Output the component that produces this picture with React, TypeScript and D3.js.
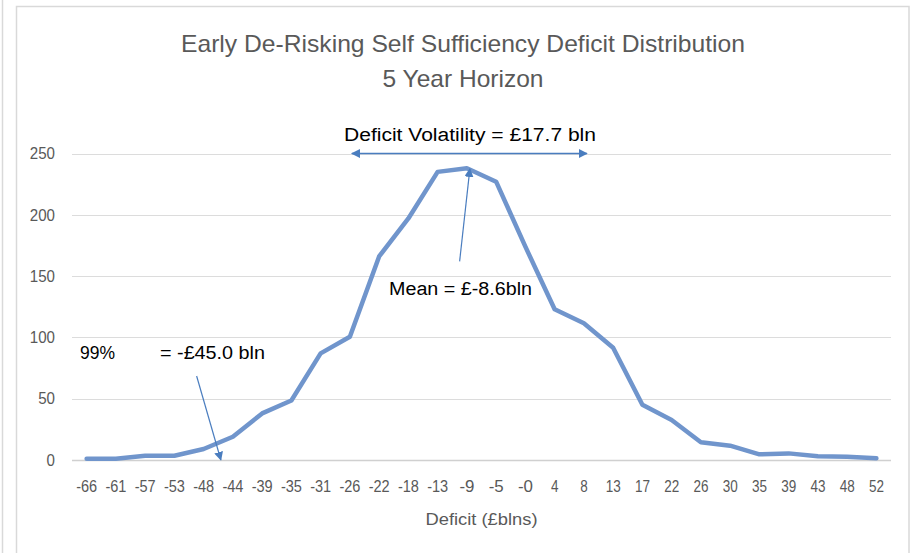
import React from "react";
import * as d3 from "d3";

const categories = ["-66","-61","-57","-53","-48","-44","-39","-35","-31","-26","-22","-18","-13","-9","-5","-0","4","8","13","17","22","26","30","35","39","43","48","52"];
const counts = [1,1,3.5,3.5,9,19,38,48.5,87,100.5,166,197,235,238,227,174,123,111.5,91.5,45,32.6,14.5,11.7,4.6,5.4,3,2.7,1.4];
const yTicks = [0,50,100,150,200,250];
const titleLines = ["Early De-Risking Self Sufficiency Deficit Distribution", "5 Year Horizon"];
const xAxisTitle = "Deficit (£blns)";
const volatilityText = "Deficit Volatility = £17.7 bln";
const meanText = "Mean = £-8.6bln";
const pctText = "99%";
const varText = "= -£45.0 bln";

const W = 913, H = 553;
const plot = { left: 72, right: 891, top: 153.5, bottom: 460 };
const FONT = "'Liberation Sans', Arial, sans-serif";
const LINE_BLUE = "#7095cc";
const ARROW_BLUE = "#4a7dbf";

export default function App() {
  const x = d3.scaleBand<string>().domain(categories).range([plot.left, plot.right]);
  const y = d3.scaleLinear().domain([0, 250]).range([plot.bottom, plot.top]);
  const cx = (c: string) => (x(c) as number) + x.bandwidth() / 2;
  const line = d3.line<number>().x((_, i) => cx(categories[i])).y((d) => y(d));

  const volL = cx("-26") + 2, volR = cx("8") + 3;
  const volY = y(250);
  const meanTip = { x: cx("-9") + 3, y: y(237.5) };
  const meanBase = { x: cx("-13") + 22, y: y(162) };
  const varTip = { x: cx("-44") - 12, y: y(0) };
  const varBase = { x: cx("-48") - 7, y: y(68.5) };

  return (
    <svg width={W} height={H} style={{ position: "absolute", left: 0, top: 0, background: "#fff" }}>
      <defs>
        <marker id="ah2" viewBox="0 0 10 10" refX="9" refY="5" markerWidth="9" markerHeight="9" orient="auto-start-reverse" markerUnits="userSpaceOnUse">
          <path d="M0,0 L10,5 L0,10 z" fill={ARROW_BLUE} />
        </marker>
      </defs>
      <rect x={0} y={0} width={W} height={H} fill="#fff" />
      <line x1={2.5} x2={2.5} y1={0} y2={H} stroke="#d9d9d9" strokeWidth={1.5} />
      <rect x={16.5} y={6.5} width={892.5} height={H} fill="#fff" stroke="#d9d9d9" strokeWidth={1.5} />

      {titleLines.map((t, i) => (
        <text key={t} x={463} y={i === 0 ? 52 : 87} textAnchor="middle" fontFamily={FONT} fontSize={24} fill="#595959"
          textLength={i === 0 ? 564 : 161} lengthAdjust="spacingAndGlyphs">{t}</text>
      ))}

      {yTicks.map((t) => (
        <g key={t}>
          <line x1={plot.left} x2={plot.right} y1={Math.round(y(t)) + 0.5} y2={Math.round(y(t)) + 0.5}
            stroke={t === 0 ? "#d0d0d0" : "#dcdcdc"} strokeWidth={t === 0 ? 1.5 : 1} />
          <text x={55} y={y(t)} dy="0.36em" textAnchor="end" fontFamily={FONT} fontSize={16} fill="#595959"
            textLength={String(t).length * 8.4} lengthAdjust="spacingAndGlyphs">{t}</text>
        </g>
      ))}

      {categories.map((c) => (
        <text key={c} x={cx(c)} y={492} textAnchor="middle" fontFamily={FONT} fontSize={16} fill="#595959"
          textLength={c.length === 3 ? 21 : c.length === 2 ? 15 : 7.5} lengthAdjust="spacingAndGlyphs">{c}</text>
      ))}
      <text x={(plot.left + plot.right) / 2} y={525} textAnchor="middle" fontFamily={FONT} fontSize={16} fill="#595959"
        textLength={112} lengthAdjust="spacingAndGlyphs">{xAxisTitle}</text>

      <path d={line(counts) || ""} fill="none" stroke={LINE_BLUE} strokeWidth={4.5} strokeLinejoin="round" strokeLinecap="round" />

      <text x={470} y={141} textAnchor="middle" fontFamily={FONT} fontSize={18} fill="#000"
        textLength={252} lengthAdjust="spacingAndGlyphs">{volatilityText}</text>
      <line x1={volL} x2={volR} y1={volY} y2={volY} stroke={ARROW_BLUE} strokeWidth={1.5}
        markerStart="url(#ah2)" markerEnd="url(#ah2)" />

      <line x1={meanBase.x} y1={meanBase.y} x2={meanTip.x} y2={meanTip.y} stroke={ARROW_BLUE} strokeWidth={1.2} markerEnd="url(#ah2)" />
      <text x={460.5} y={295} textAnchor="middle" fontFamily={FONT} fontSize={18} fill="#000"
        textLength={143} lengthAdjust="spacingAndGlyphs">{meanText}</text>

      <text x={80} y={359} fontFamily={FONT} fontSize={18} fill="#000" textLength={35} lengthAdjust="spacingAndGlyphs">{pctText}</text>
      <text x={160} y={359} fontFamily={FONT} fontSize={18} fill="#000" textLength={105} lengthAdjust="spacingAndGlyphs">{varText}</text>
      <line x1={varBase.x} y1={varBase.y} x2={varTip.x} y2={varTip.y} stroke={ARROW_BLUE} strokeWidth={1.2} markerEnd="url(#ah2)" />
    </svg>
  );
}
